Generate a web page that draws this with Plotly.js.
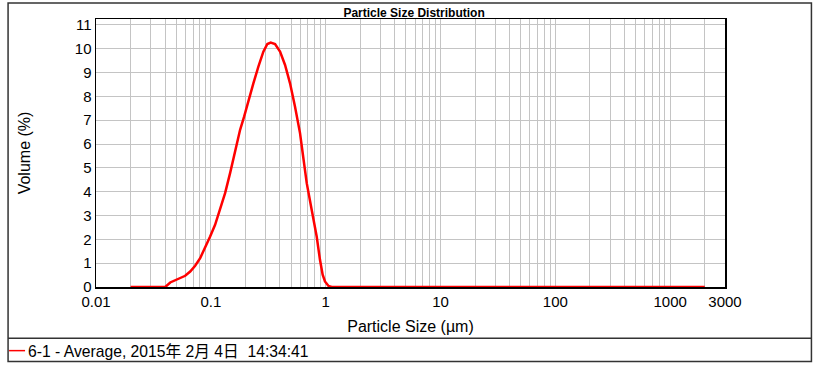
<!DOCTYPE html>
<html>
<head>
<meta charset="utf-8">
<script src="https://cdn.plot.ly/plotly-3.0.1.min.js"></script>
<style>html,body{margin:0;padding:0;background:#fff;}#chart{width:820px;height:365px;}</style>
</head>
<body>
<div id="chart"></div>
<script>
// Particle size (µm)
const sizes = [0.02, 0.0401, 0.0443, 0.0506, 0.0598, 0.0661, 0.0730, 0.0807, 0.0892, 0.0986, 0.1089, 0.1205, 0.1331, 0.1471, 0.1626, 0.1798, 0.1949, 0.2123, 0.2346, 0.2594, 0.2866, 0.3105, 0.3323, 0.3624, 0.4005, 0.4428, 0.4894, 0.5409, 0.5978, 0.625, 0.684, 0.755, 0.835, 0.892, 0.941, 0.986, 1.054, 1.128, 2000];
// Volume (%)
const volumes = [0, 0, 0.19, 0.33, 0.47, 0.65, 0.89, 1.21, 1.63, 2.12, 2.61, 3.24, 3.94, 4.78, 5.76, 6.6, 7.15, 7.85, 8.55, 9.25, 9.88, 10.2, 10.26, 10.2, 9.88, 9.32, 8.55, 7.57, 6.46, 5.76, 4.36, 3.24, 2.12, 1.14, 0.52, 0.23, 0.05, 0, 0];
const xTickVals = [0.01, 0.1, 1, 10, 100, 1000, 3000];
const xTickText = ["0.01", "0.1", "1", "10", "100", "1000", "3000"];
const yTickVals = [0,1,2,3,4,5,6,7,8,9,10,11];
const seriesName = "6-1 - Average, 2015年 2月 4日\u00a0\u00a014:34:41";

const minorVals = [];
for (let d = -2; d <= 3; d++) {
  for (let m = 2; m <= 9; m++) {
    const v = m * Math.pow(10, d);
    if (v < 3000) minorVals.push(v);
  }
}

const FONT = "Arial, 'Liberation Sans', 'Noto Sans CJK SC', sans-serif";
const gridColor = "#c4c4c4";

const trace = {
  x: sizes, y: volumes, type: "scatter", mode: "lines",
  name: seriesName, showlegend: false,
  line: {color: "#ff0000", width: 2.5}
};

const layout = {
  width: 820, height: 365,
  margin: {l: 96, r: 94.5, t: 19, b: 77.7},
  paper_bgcolor: "#fff", plot_bgcolor: "#fff",
  font: {family: FONT, color: "#000"},
  showlegend: false,
  title: {text: "<b>Particle Size Distribution</b>", font: {size: 12, family: FONT, color: "#000"},
          x: 0.505, xref: "container", xanchor: "center", y: 1 - 13/365, yref: "container", yanchor: "middle"},
  xaxis: {
    type: "log", range: [-2, Math.log10(3000)],
    tickmode: "array", tickvals: xTickVals, ticktext: xTickText,
    tickfont: {size: 15}, ticks: "", showgrid: true, gridcolor: gridColor, gridwidth: 1,
    minor: {tickmode: "array", tickvals: minorVals, showgrid: true, gridcolor: gridColor, gridwidth: 1, ticks: ""},
    showline: true, linecolor: "#000", linewidth: 1.5, mirror: true, zeroline: false,
    title: {text: "Particle Size (µm)", font: {size: 16}, standoff: 12},
    automargin: false
  },
  yaxis: {
    range: [0, 11.25], tickmode: "array", tickvals: yTickVals,
    tickfont: {size: 15}, ticks: "", showgrid: true, gridcolor: gridColor, gridwidth: 1,
    showline: true, linecolor: "#000", linewidth: 1.5, mirror: true, zeroline: false,
    title: {text: "Volume (%)", font: {size: 16}, standoff: 40},
    automargin: false
  },
  shapes: [
    {type: "rect", xref: "paper", yref: "paper", x0: (8-96)/629.5, x1: (812-96)/629.5,
     y0: (287.3-362)/268.3, y1: (287.3-3)/268.3, line: {color: "#333", width: 1.5}, layer: "below"},
    {type: "line", xref: "paper", yref: "paper", x0: (8-96)/629.5, x1: (812-96)/629.5,
     y0: (287.3-338.7)/268.3, y1: (287.3-338.7)/268.3, line: {color: "#333", width: 1.5}},
    {type: "line", xref: "paper", yref: "paper", x0: (9-96)/629.5, x1: (25-96)/629.5,
     y0: (287.3-351)/268.3, y1: (287.3-351)/268.3, line: {color: "#ff0000", width: 1.5}}
  ],
  annotations: [
    {text: seriesName, xref: "paper", yref: "paper", x: (25.5-96)/629.5, y: (287.3-351.5)/268.3,
     xanchor: "left", yanchor: "middle", showarrow: false, font: {size: 15.7, family: FONT, color: "#000"}}
  ]
};

Plotly.newPlot("chart", [trace], layout, {displayModeBar: false, staticPlot: true});
</script>
</body>
</html>
